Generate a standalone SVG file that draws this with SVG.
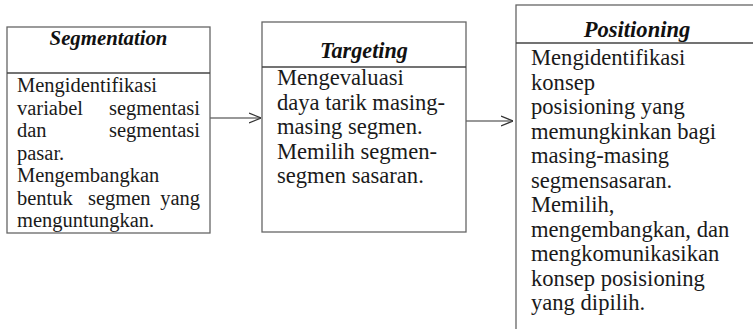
<svg xmlns="http://www.w3.org/2000/svg" width="753" height="329" viewBox="0 0 753 329">
<style>
.box{fill:#fff;stroke:#666;stroke-width:1.3}
.div{stroke:#444;stroke-width:1.3}
text{font-family:'Liberation Serif','Times New Roman',serif;fill:#1a1a1a}
.title{font-weight:bold;font-style:italic;fill:#111;text-anchor:middle}
.t1{font-size:20.5px}
.t2{font-size:22.6px}
.end{text-anchor:end}
.conn{stroke:#333;stroke-width:1.2;fill:none}
</style>
<defs>
<marker id="arr" viewBox="0 0 12 12" refX="12" refY="6" markerWidth="12" markerHeight="12" markerUnits="userSpaceOnUse" orient="auto">
<path d="M0,1 L12,6 L0,11" fill="none" stroke="#333" stroke-width="1.2"/>
</marker>
</defs>
<g id="connectors">
<line class="conn" x1="210" y1="118" x2="261" y2="118" marker-end="url(#arr)"/>
<line class="conn" x1="466" y1="121" x2="513" y2="121" marker-end="url(#arr)"/>
</g>
<g id="segmentation">
<rect class="box" x="7" y="27" width="203" height="206"/>
<line class="div" x1="7" y1="73" x2="210" y2="73"/>
<text class="title" x="108.5" y="45" font-size="20.8">Segmentation</text>
<text class="t1" x="17" y="92">Mengidentifikasi</text>
<text class="t1" x="17" y="114.5">variabel</text><text class="t1 end" x="200" y="114.5">segmentasi</text>
<text class="t1" x="17" y="137">dan</text><text class="t1 end" x="200" y="137">segmentasi</text>
<text class="t1" x="17" y="159.5">pasar.</text>
<text class="t1" x="17" y="182">Mengembangkan</text>
<text class="t1" x="17" y="204.5">bentuk</text><text class="t1" x="88" y="204.5">segmen</text><text class="t1 end" x="200" y="204.5">yang</text>
<text class="t1" x="17" y="227">menguntungkan.</text>
</g>
<g id="targeting">
<rect class="box" x="262" y="22" width="204" height="210"/>
<line class="div" x1="262" y1="67" x2="466" y2="67"/>
<text class="title" x="364" y="58" font-size="22.2">Targeting</text>
<text class="t2" x="277" y="85">Mengevaluasi</text>
<text class="t2" x="277" y="109.5">daya tarik masing-</text>
<text class="t2" x="277" y="134">masing segmen.</text>
<text class="t2" x="277" y="158.5">Memilih segmen-</text>
<text class="t2" x="277" y="183">segmen sasaran.</text>
</g>
<g id="positioning">
<rect class="box" x="516" y="5" width="260" height="340"/>
<line class="div" x1="516" y1="43" x2="753" y2="43"/>
<text class="title" x="637" y="37" font-size="22.6">Positioning</text>
<text class="t2" x="531" y="65">Mengidentifikasi</text>
<text class="t2" x="531" y="89.5">konsep</text>
<text class="t2" x="531" y="114">posisioning yang</text>
<text class="t2" x="531" y="138.5">memungkinkan bagi</text>
<text class="t2" x="531" y="163">masing-masing</text>
<text class="t2" x="531" y="187.5">segmensasaran.</text>
<text class="t2" x="531" y="212">Memilih,</text>
<text class="t2" x="531" y="236.5">mengembangkan, dan</text>
<text class="t2" x="531" y="261">mengkomunikasikan</text>
<text class="t2" x="531" y="285.5">konsep posisioning</text>
<text class="t2" x="531" y="310">yang dipilih.</text>
</g>
</svg>
